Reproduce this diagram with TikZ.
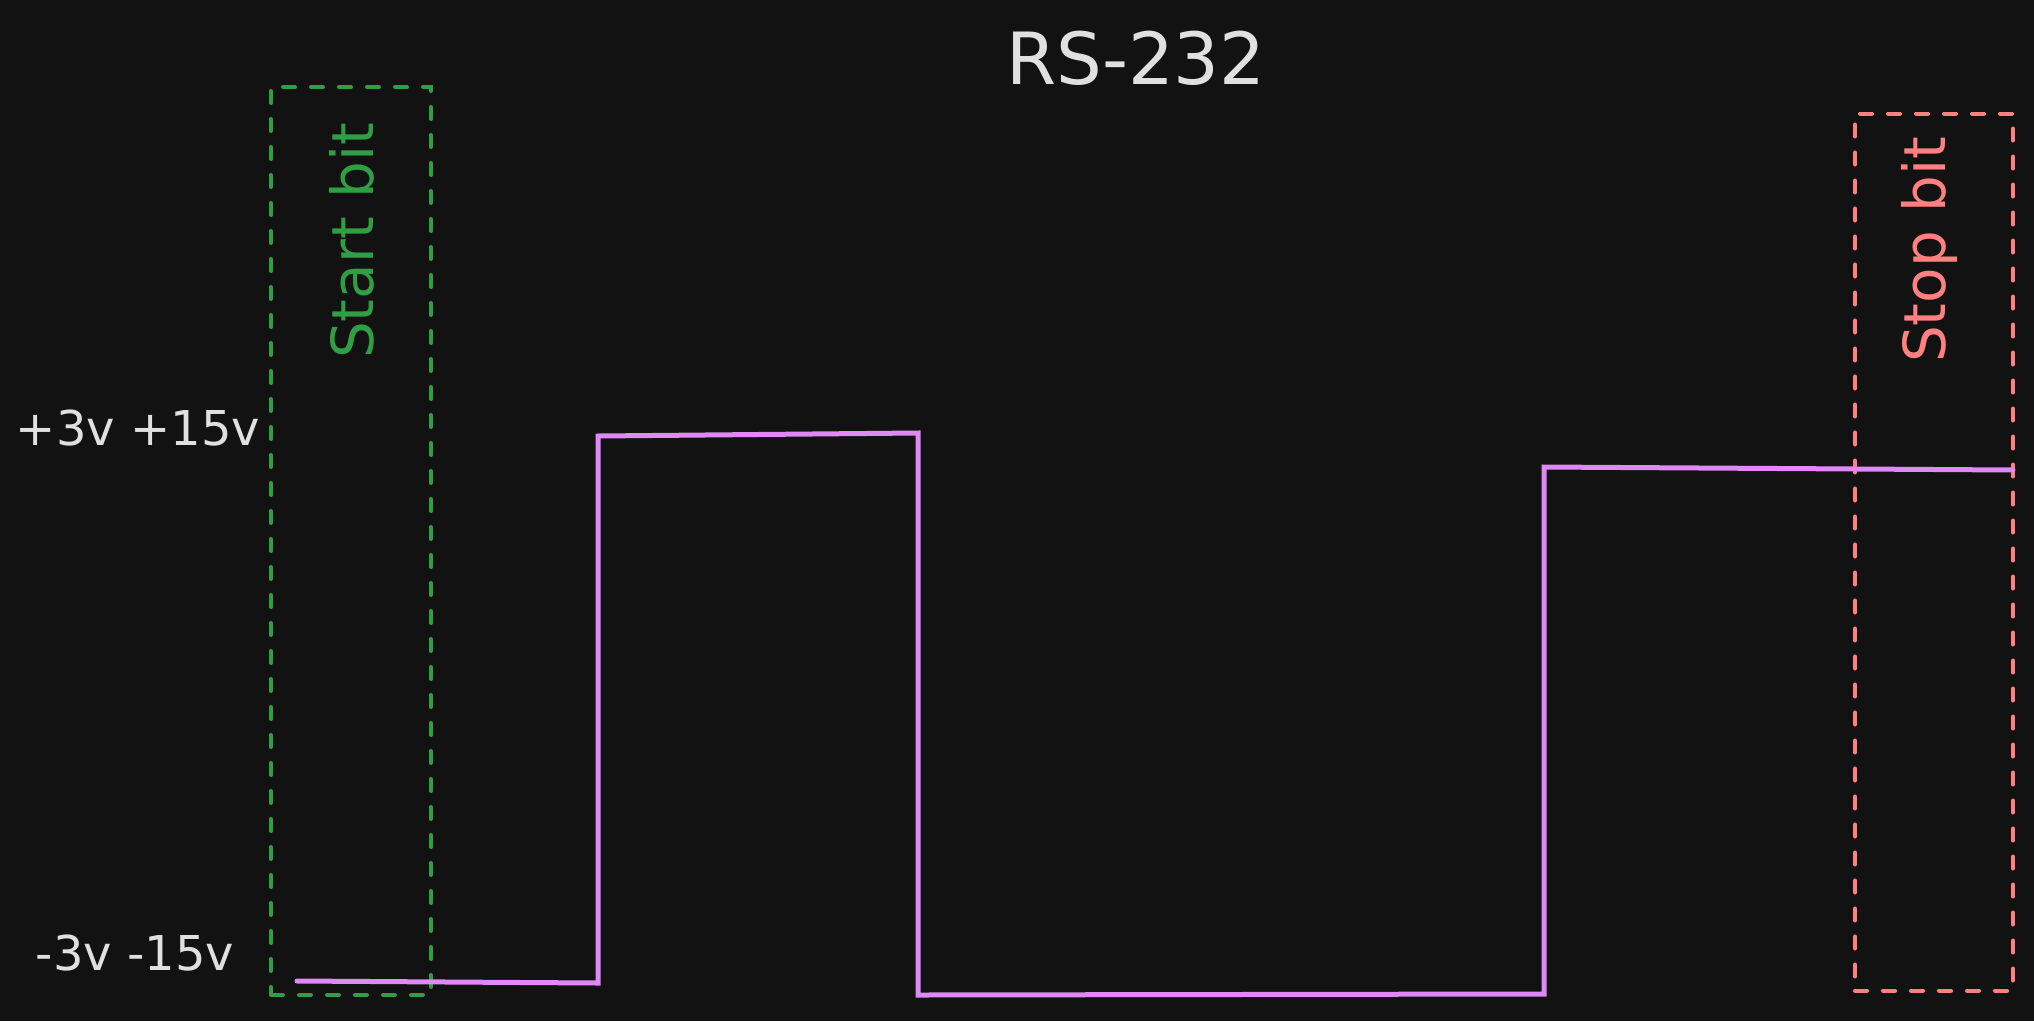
\documentclass[tikz,border=0pt]{standalone}
\usepackage{fontspec}
\setmainfont{DejaVu Sans}
\definecolor{bg}{HTML}{121212}
\definecolor{txt}{HTML}{E0E0E0}
\definecolor{grn}{HTML}{2F9E44}
\definecolor{rd}{HTML}{FF8080}
\definecolor{vio}{HTML}{E088F5}
\begin{document}
\begin{tikzpicture}[x=1pt,y=-1pt,
  bitbox/.style={draw, line width=4pt, dash pattern=on 12pt off 16pt, line cap=round, inner sep=0pt},
  lbl/.style={text=txt, font=\fontsize{48}{52}\selectfont, inner sep=0pt},
  sig/.style={draw=vio, line width=5pt, line join=miter, line cap=round}]
\fill[bg] (0,0) rectangle (2034,1021);
\useasboundingbox (0,0) rectangle (2034,1021);
\node[text=txt, font=\fontsize{72}{76}\selectfont, inner sep=0pt] (title) at (1136,58) {RS-232};
\node[bitbox, draw=grn, minimum width=160pt, minimum height=908pt] (startbox) at (351,541) {};
\node[bitbox, draw=rd, minimum width=158pt, minimum height=877pt] (stopbox) at (1934,552) {};
\node[text=grn, rotate=90, font=\fontsize{58}{62}\selectfont, inner sep=0pt] (starttxt) at (352,241) {Start bit};
\node[text=rd, rotate=90, font=\fontsize{58}{62}\selectfont, inner sep=0pt] (stoptxt) at (1929,250) {Stop bit};
\node[lbl] (high) at (138,428) {+3v +15v};
\node[lbl] (low) at (135,953) {-3v -15v};
\coordinate (p0) at (297,981);
\coordinate (p1) at (598,983);
\coordinate (p2) at (598,436);
\coordinate (p3) at (918,433);
\coordinate (p4) at (918,995);
\coordinate (p5) at (1544,994);
\coordinate (p6) at (1544,467);
\coordinate (p7) at (2013,470);
\draw[sig] (p0) -- (p1) -- (p2) -- (p3) -- (p4) -- (p5) -- (p6) -- (p7);
\end{tikzpicture}
\end{document}
